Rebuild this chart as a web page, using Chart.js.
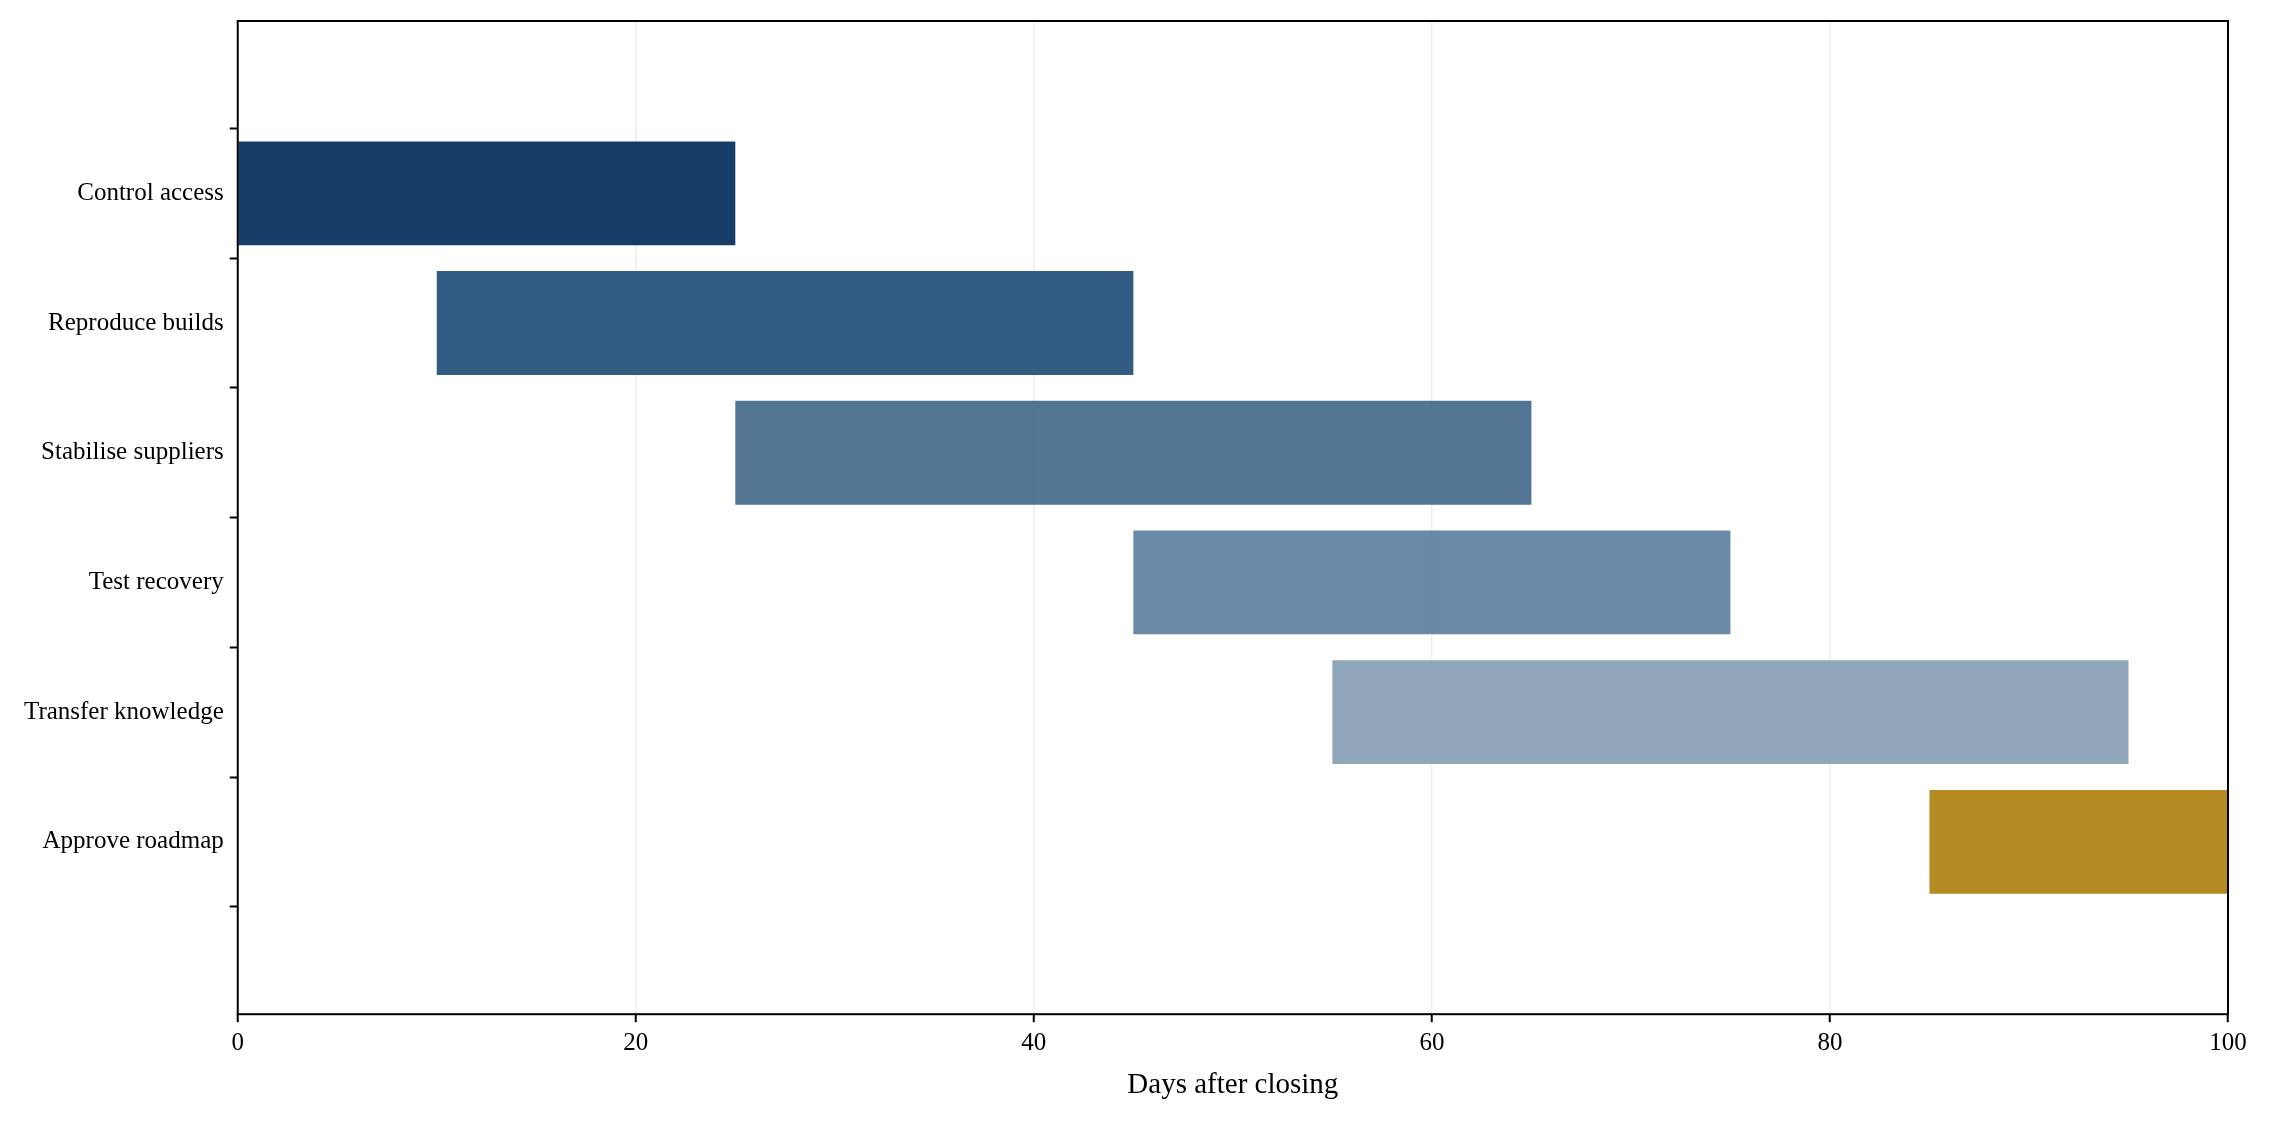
<!DOCTYPE html>
<html><head><meta charset="utf-8">
<script src="https://cdn.jsdelivr.net/npm/chart.js@4/dist/chart.umd.min.js"></script>
<style>html,body{margin:0;padding:0;background:#fff}#w{width:2272px;height:1121px}</style>
</head><body><div id="w"><canvas id="c"></canvas></div>
<script>
const tasks = ["Control access","Reproduce builds","Stabilise suppliers","Test recovery","Transfer knowledge","Approve roadmap"];
const starts = [0,10,25,45,55,85];
const ends = [25,45,65,75,95,100];
const colors = ["rgba(18,56,101,0.98)","rgba(38,82,125,0.94)","rgba(68,105,139,0.92)","rgba(92,126,158,0.91)","rgba(132,156,180,0.9)","rgba(178,135,28,0.97)"];
const xTicks = [0,20,40,60,80,100];
const frame = {id:'frame',afterDraw(ch){const a=ch.chartArea,c=ch.ctx;c.save();c.strokeStyle='#000';c.lineWidth=2;c.strokeRect(a.left,a.top,a.right-a.left,a.bottom-a.top);c.restore();}};
new Chart(document.getElementById('c'),{
type:'bar',
data:{datasets:[{data:starts.map((s,i)=>({y:i,x:[s,ends[i]]})),backgroundColor:colors,barPercentage:0.8,categoryPercentage:1}]},
options:{indexAxis:'y',responsive:true,maintainAspectRatio:false,animation:false,
layout:{padding:{top:20,right:44,bottom:14,left:18}},
plugins:{legend:{display:false},tooltip:{enabled:false}},
scales:{
x:{type:'linear',min:0,max:100,afterBuildTicks(ax){ax.ticks=xTicks.map(v=>({value:v}));},
grid:{color:'rgba(200,200,200,0.35)',lineWidth:1.5,tickLength:8,tickColor:'#000',tickWidth:2},
border:{display:false},
ticks:{color:'#000',font:{family:'Liberation Serif',size:25},padding:6},
title:{display:true,text:'Days after closing',color:'#000',font:{family:'Liberation Serif',size:29},padding:{top:4}}},
y:{type:'linear',reverse:true,min:-0.69,max:5.69,
afterBuildTicks(ax){ax.ticks=tasks.map((t,i)=>({value:i}));},
grid:{drawOnChartArea:false,tickLength:8,tickColor:'#000',tickWidth:2},border:{display:false},
ticks:{color:'#000',font:{family:'Liberation Serif',size:25},padding:6,callback:v=>tasks[v]}}
}},
plugins:[frame]});
</script></body></html>
